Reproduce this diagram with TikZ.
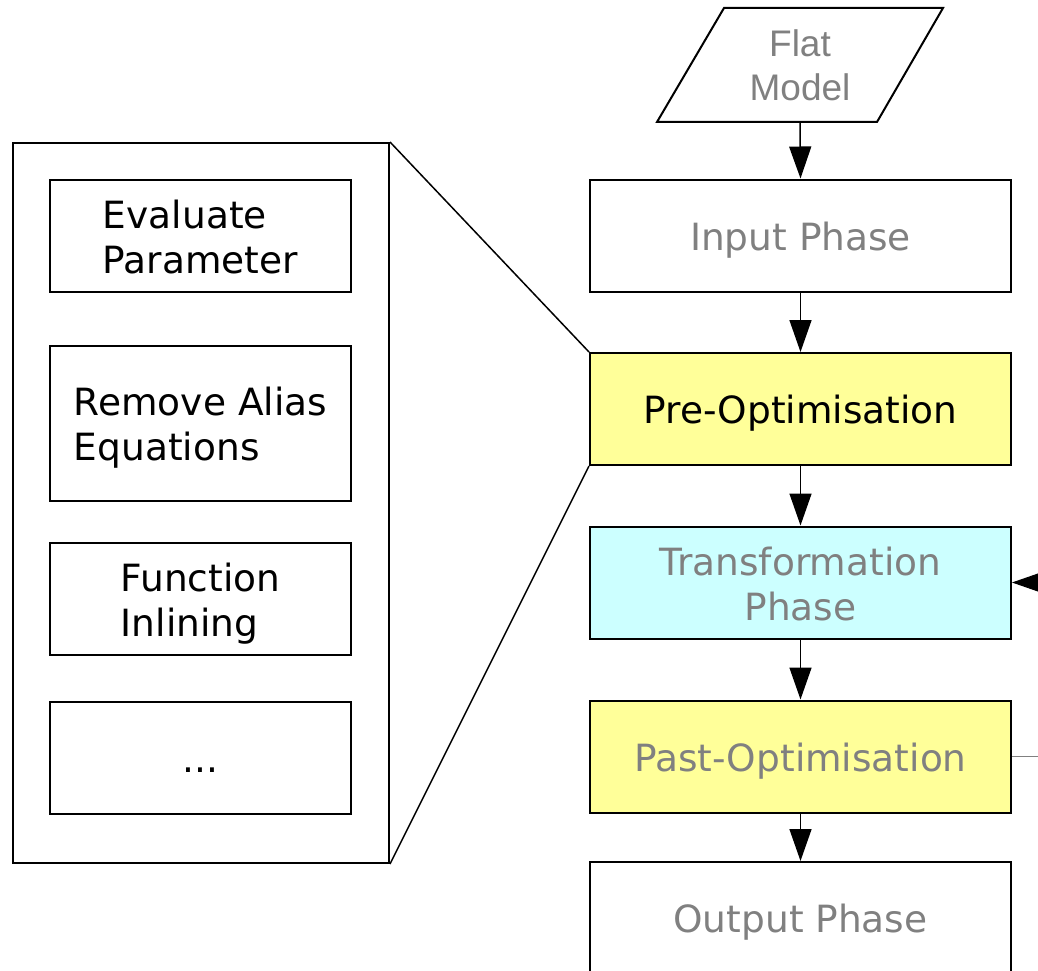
\documentclass[tikz,border=0pt]{standalone}
\usepackage{fontspec}
\setmainfont{DejaVu Sans}
\newfontfamily\flatfont{Liberation Sans}
\usetikzlibrary{arrows.meta}
\definecolor{boxyellow}{HTML}{FFFF99}
\definecolor{boxcyan}{HTML}{CCFFFF}
\definecolor{txtgray}{HTML}{808080}
\newcommand{\lnstrut}{\rule[-0.2em]{0pt}{1.2em}}
\tikzset{
  phase/.style={draw=black, line width=2pt, minimum width=421pt, minimum height=112pt,
    inner sep=0pt, font=\fontsize{37.5}{45}\selectfont, align=center},
  substep/.style={draw=black, line width=2pt, minimum width=301pt, inner sep=0pt,
    font=\fontsize{37.5}{45}\selectfont, align=left},
  flow/.style={line width=1.5pt, -{Triangle[length=32pt,width=22pt]}},
  zoomline/.style={line width=1.5pt},
}
\begin{document}
\begin{tikzpicture}[x=1pt,y=-1pt]
\useasboundingbox (0,0) rectangle (1038,971);
\clip (0,0) rectangle (1038,971);
% input data
\node[minimum width=220pt, minimum height=114pt, inner sep=0pt, align=center,
      text=txtgray, font=\flatfont\fontsize{37}{44}\selectfont] (flat) at (800,65) {\raisebox{-2pt}{Flat}\\\raisebox{-2pt}{Model}};
\draw[line width=2pt, line join=miter] (724,8) -- (943,8) -- (877,122) -- (657,122) -- cycle;
% phases
\node[phase, text=txtgray] (input) at (800.5,235.5) {\lnstrut Input Phase};
\node[phase, fill=boxyellow, text=black] (pre) at (800.5,409) {\lnstrut Pre-Optimisation};
\node[phase, fill=boxcyan, text=txtgray] (trans) at (800.5,582.5) {\lnstrut Transformation\\\lnstrut Phase};
\node[phase, fill=boxyellow, text=txtgray] (past) at (800.5,756.5) {\lnstrut Past-Optimisation};
\node[phase, text=txtgray] (output) at (800.5,918) {\lnstrut Output Phase};
% arrows
\draw[flow] (flat.south) -- (input.north);
\draw[flow] (input) -- (pre);
\draw[flow] (pre) -- (trans);
\draw[flow] (trans) -- (past);
\draw[flow] (past) -- (output);
\coordinate (loopR) at (1090,756.5);
\draw[line width=1pt, draw=txtgray, -{Triangle[length=32pt,width=22pt,color=black]}]
  (past.east) -- (loopR) |- (trans.east);
% detail panel
\node[draw=black, line width=2pt, minimum width=376pt, minimum height=720pt, inner sep=0pt] (panel) at (201,503) {};
\node[substep, minimum height=112pt] (eval) at (200.5,236) {\lnstrut Evaluate\\\lnstrut Parameter};
\node[substep, minimum height=155pt] (alias) at (200.5,423.5) {\lnstrut Remove Alias\\\lnstrut Equations};
\node[substep, minimum height=112pt] (inline) at (200.5,599) {\lnstrut Function\\\lnstrut Inlining};
\node[substep, minimum height=112pt, align=center] (more) at (200.5,757.5) {\lnstrut ...};
% zoom lines
\draw[zoomline] (panel.north east) -- (pre.north west);
\draw[zoomline] (panel.south east) -- (pre.south west);
\end{tikzpicture}
\end{document}
